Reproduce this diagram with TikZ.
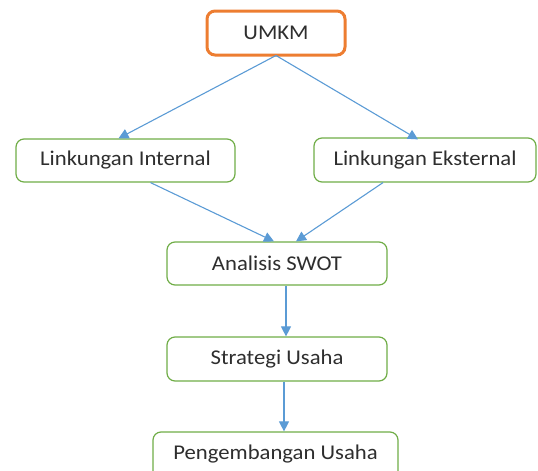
\documentclass[tikz,border=0pt]{standalone}
\usepackage{fontspec}
\setmainfont{Carlito}[FakeStretch=1.08]
\usetikzlibrary{arrows.meta}
\definecolor{boxgreen}{RGB}{112,173,71}
\definecolor{boxorange}{RGB}{237,125,49}
\definecolor{arrowblue}{RGB}{91,155,213}
\begin{document}
\begin{tikzpicture}[x=1pt,y=-1pt,
  lbl/.style={font=\fontsize{21}{24}\selectfont, text=black!82},
  box/.style={draw=boxgreen, line width=1.2pt, rounded corners=8pt, fill=white,
    inner sep=0pt, lbl},
  topbox/.style={box, draw=boxorange, line width=3pt},
  conn/.style={draw=arrowblue, line width=1.1pt, -{Triangle[length=10pt,width=10pt]}}]
\useasboundingbox (0,0) rectangle (538,471);
\clip (0,0) rectangle (538,471);
\node[topbox, minimum width=138pt, minimum height=44pt] (umkm) at (276,33) {UMKM};
\node[box, minimum width=219pt, minimum height=43pt] (li) at (125.5,160.5) {Linkungan Internal};
\node[box, minimum width=222pt, minimum height=44pt] (le) at (425,160) {Linkungan Eksternal};
\node[box, minimum width=220pt, minimum height=43pt] (swot) at (277,263.5) {Analisis SWOT};
\node[box, minimum width=220pt, minimum height=44pt] (strat) at (277,359) {Strategi Usaha};
\node[box, minimum width=245pt, minimum height=60pt] (peng) at (275.5,462) {};
\node[lbl] (pengt) at (275.5,454) {Pengembangan Usaha};
\coordinate (uo) at ([yshift=1pt]umkm.south);
\draw[conn] (uo) -- ([xshift=-7pt]li.north);
\draw[conn] (uo) -- ([xshift=-7pt,yshift=-2pt]le.north);
\draw[conn] ([xshift=25pt]li.south) -- ([xshift=-3pt]swot.north);
\draw[conn] ([xshift=-42pt]le.south) -- ([xshift=19pt]swot.north);
\draw[conn] ([xshift=9pt]swot.south) -- ([xshift=9pt]strat.north);
\draw[conn] ([xshift=7pt]strat.south) -- ([xshift=8.5pt]peng.north);
\end{tikzpicture}
\end{document}
